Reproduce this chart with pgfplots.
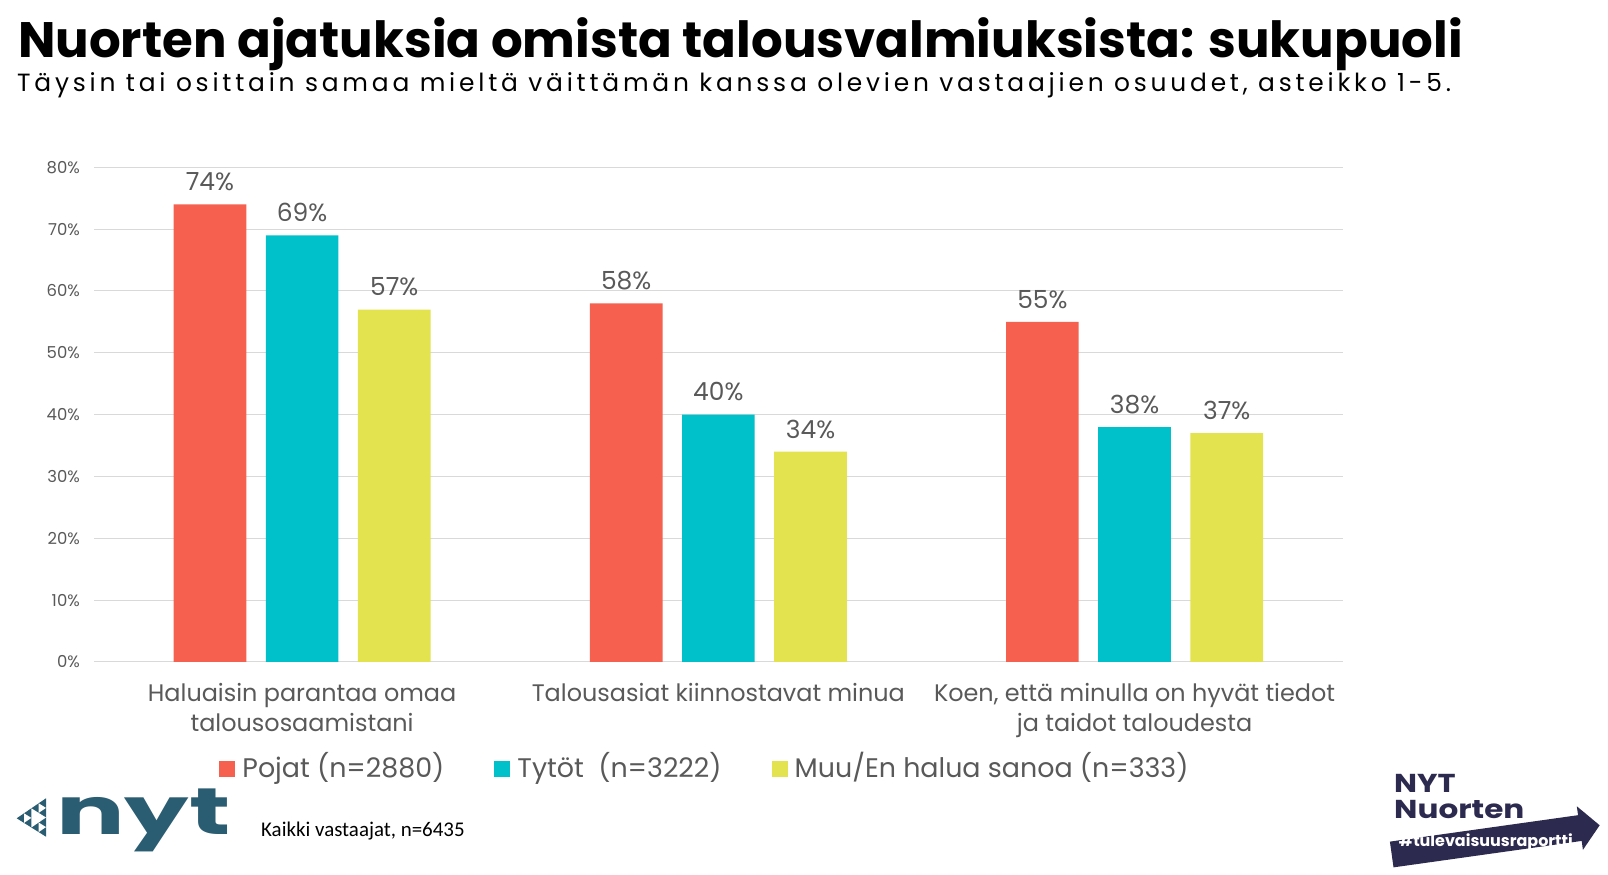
\documentclass[border=0pt]{standalone}
\usepackage{pgfplots}
\pgfplotsset{compat=1.18}
\usepackage{fontspec}
\setmainfont{Poppins}
\newfontfamily\calibri{Carlito}
\definecolor{cred}{HTML}{F6604F}
\definecolor{ccyan}{HTML}{00C0CA}
\definecolor{cyel}{HTML}{E3E34F}
\definecolor{txtgray}{HTML}{595959}
\definecolor{gridgray}{HTML}{D9D9D9}
\definecolor{nytteal}{HTML}{2A5D72}
\definecolor{navy}{HTML}{2D2A4F}
\pgfplotsset{sqlegend/.style={legend image code/.code={\fill[##1,draw=none] (0bp,-11bp) rectangle (16bp,5bp);}}}
\pgfplotstableread{
x pojat tytot muu
0 74 69 57
1 58 40 34
2 55 38 37
}\datatable
\begin{document}
\begin{tikzpicture}[x=1bp,y=1bp]
\path[use as bounding box] (0,0) rectangle (1608,874);
\node[anchor=base west, inner sep=0pt, font=\fontsize{50}{60}\bfseries\selectfont] at (18,816) {Nuorten ajatuksia omista talousvalmiuksista: sukupuoli};
\node[anchor=base west, inner sep=0pt, font=\fontsize{25}{30}\selectfont\addfontfeature{LetterSpace=15.2}] at (17,782) {Täysin tai osittain samaa mieltä väittämän kanssa olevien vastaajien osuudet, asteikko 1-5.};
\begin{axis}[
  at={(94bp,212bp)}, anchor=south west, scale only axis,
  width=1248.7bp, height=494.7bp,
  ybar=19.5bp, bar width=72.7bp,
  xmin=-0.5, xmax=2.5, ymin=0, ymax=80, enlargelimits=false,
  /pgf/number format/assume math mode=true,
  axis line style={draw=none},
  tick style={draw=none}, major tick length=0pt,
  ytick={0,10,...,80}, ymajorgrids, grid style={gridgray, line width=1bp},
  yticklabel={\pgfmathprintnumber{\tick}\%},
  yticklabel style={font=\fontsize{16.5}{20}\selectfont, text=txtgray, anchor=east, inner sep=0pt, xshift=-14bp},
  xtick={0,1,2},
  xticklabels={{Haluaisin parantaa omaa\\talousosaamistani},{Talousasiat kiinnostavat minua},{Koen, että minulla on hyvät tiedot\\ja taidot taloudesta}},
  xticklabel style={font=\fontsize{24}{30}\selectfont, text=txtgray, align=center, anchor=north, inner sep=0pt, yshift=-21.5bp},
  nodes near coords={\pgfmathprintnumber{\pgfplotspointmeta}\%},
  every node near coord/.append style={font=\fontsize{25}{30}\selectfont, text=txtgray, anchor=base, inner sep=0pt, yshift=13.7bp},
  legend columns=3,
  legend style={draw=none, fill=none, at={(0.4885,-0.21)}, anchor=center,
    font=\fontsize{27}{32}\selectfont, text=txtgray, inner sep=0pt,
    nodes={inner sep=0pt},
    /tikz/every odd column/.append style={column sep=7bp},
    /tikz/every even column/.append style={column sep=50bp}},
]
\addplot[fill=cred, draw=none, sqlegend] table[x=x, y=pojat] {\datatable};
\addplot[fill=ccyan, draw=none, sqlegend] table[x=x, y=tytot] {\datatable};
\addplot[fill=cyel, draw=none, sqlegend] table[x=x, y=muu] {\datatable};
\legend{Pojat (n=2880), Tytöt\ \ (n=3222), Muu/En halua sanoa (n=333)}
\end{axis}
% footnote
\node[anchor=base west, inner sep=0pt, font=\calibri\fontsize{21}{25}\selectfont] at (261,37.3) {Kaikki vastaajat, n=6435};
% nyt logo (left)
\node[anchor=base west, inner sep=0pt, text=nytteal, font=\fontsize{66}{70}\bfseries\selectfont] at (56,40) {\scalebox{1.55}[1]{nyt}};
\fill[nytteal] (16.7,55.7) -- (46,75.7) -- (46,37.3) -- cycle;
\fill[white] (31.35,65.7) -- (31.35,46.5) -- (46,56.5) -- cycle;
\fill[white] (24.03,60.7) -- (24.03,51.1) -- (31.35,56.1) -- cycle;
\fill[white] (38.68,70.7) -- (38.68,61.1) -- (46,66.1) -- cycle;
\fill[white] (38.68,51.5) -- (38.68,41.9) -- (46,46.9) -- cycle;
% NYT Nuorten logo (right)
\node[anchor=base west, inner sep=0pt, text=navy, font=\fontsize{26}{26}\bfseries\selectfont] at (1394,81) {\scalebox{1.18}[1]{NYT}};
\node[anchor=base west, inner sep=0pt, text=navy, font=\fontsize{26}{26}\bfseries\selectfont] at (1394,56) {\scalebox{1.2}[1]{Nuorten}};
\begin{scope}[shift={(1391.7,19.5)}, rotate=8]
\fill[navy] (0,-13) -- (190,-13) -- (190,-22) -- (210,0) -- (190,22) -- (190,13) -- (0,13) -- cycle;
\node[text=white, inner sep=0pt, font=\fontsize{16}{16}\bfseries\selectfont] at (95,-0.5) {\#tulevaisuusraportti};
\end{scope}
\end{tikzpicture}
\end{document}
